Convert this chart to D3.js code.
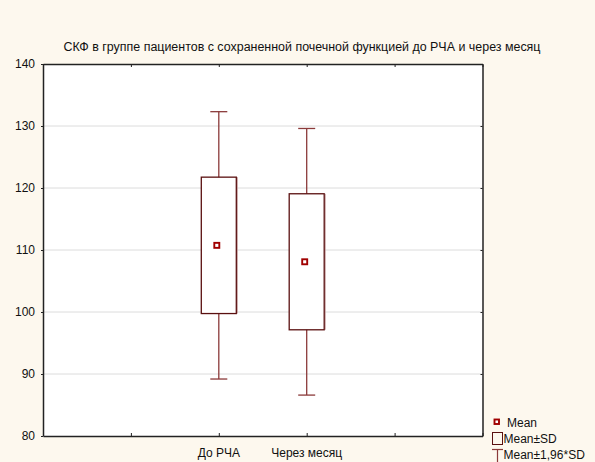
<!DOCTYPE html>
<html>
<head>
<meta charset="utf-8">
<script src="https://cdn.jsdelivr.net/npm/d3@7"></script>
<style>
  body { margin: 0; background: #fdf8ee; }
  svg { display: block; font-family: "Liberation Sans", Arial, sans-serif; }
</style>
</head>
<body>
<svg id="chart" width="595" height="462"></svg>
<script>
// data
var categories = ["До РЧА", "Через месяц"];
var catPos = [2, 3];
var means = [110.75, 108.1];
var sds = [11.0, 10.97];
var yTicks = [80, 90, 100, 110, 120, 130, 140];
var xTicks = [0, 1, 2, 3, 4, 5];
var title = "СКФ в группе пациентов с сохраненной почечной функцией до РЧА и через месяц";
var legendItems = ["Mean", "Mean±SD", "Mean±1,96*SD"];

var svg = d3.select("#chart");
var plotLeft = 43, plotRight = 482.5, plotTop = 64, plotBottom = 436;

var x = d3.scaleLinear().domain([0, 5]).range([plotLeft, plotRight]);
var y = d3.scaleLinear().domain([80, 140]).range([plotBottom, plotTop]);

var boxColor = "#5a1010";
var shadeColor = "#c49a9a";
var whiskColor = "#8b3a3a";
var markColor = "#a00000";

// plot background
svg.append("rect")
  .attr("x", plotLeft).attr("y", plotTop)
  .attr("width", plotRight - plotLeft).attr("height", plotBottom - plotTop)
  .attr("fill", "#ffffff");

// gridlines
svg.append("g").selectAll("line")
  .data(yTicks.slice(1, -1))
  .join("line")
  .attr("x1", plotLeft).attr("x2", plotRight)
  .attr("y1", d => y(d)).attr("y2", d => y(d))
  .attr("stroke", "#dcdcdc").attr("stroke-width", 1);

// axes
var gLeft = svg.append("g").attr("transform", "translate(" + plotLeft + ",0)")
  .call(d3.axisLeft(y).tickValues(yTicks).tickSize(2).tickSizeOuter(0).tickPadding(6));
var gRight = svg.append("g").attr("transform", "translate(" + plotRight + ",0)")
  .call(d3.axisLeft(y).tickValues(yTicks).tickSize(2).tickSizeOuter(0).tickFormat(""));
var gBottom = svg.append("g").attr("transform", "translate(0," + plotBottom + ")")
  .call(d3.axisTop(x).tickValues(xTicks).tickSize(3).tickSizeOuter(0).tickFormat(""));
var gTop = svg.append("g").attr("transform", "translate(0," + plotTop + ")")
  .call(d3.axisBottom(x).tickValues(xTicks).tickSize(3).tickSizeOuter(0).tickFormat(""));

[gLeft, gRight, gBottom, gTop].forEach(g => {
  g.select(".domain").attr("stroke", "#222").attr("stroke-width", 1.5);
  g.selectAll(".tick line").attr("stroke", "#222");
});
gLeft.selectAll(".tick text")
  .attr("font-size", "12px").attr("fill", "#111")
  .attr("font-family", "Liberation Sans, Arial, sans-serif");

// category labels
svg.append("g").selectAll("text")
  .data(categories)
  .join("text")
  .attr("x", (d, i) => x(catPos[i]))
  .attr("y", plotBottom + 21)
  .attr("text-anchor", "middle")
  .attr("font-size", "12px").attr("fill", "#111")
  .text(d => d);

// title
svg.append("text")
  .attr("x", 302).attr("y", 51)
  .attr("text-anchor", "middle")
  .attr("font-size", "12.45px").attr("fill", "#111")
  .text(title);

var boxW = 35, capW = 17;
var groups = svg.append("g").selectAll("g")
  .data(categories.map((c, i) => ({ c: c, p: catPos[i], m: means[i], s: sds[i] })))
  .join("g");

// whiskers
groups.append("line")
  .attr("x1", d => x(d.p)).attr("x2", d => x(d.p))
  .attr("y1", d => y(d.m + 1.96 * d.s)).attr("y2", d => y(d.m - 1.96 * d.s))
  .attr("stroke", whiskColor).attr("stroke-width", 1.3);
groups.append("line")
  .attr("x1", d => x(d.p) - capW / 2).attr("x2", d => x(d.p) + capW / 2)
  .attr("y1", d => y(d.m + 1.96 * d.s)).attr("y2", d => y(d.m + 1.96 * d.s))
  .attr("stroke", whiskColor).attr("stroke-width", 1.3);
groups.append("line")
  .attr("x1", d => x(d.p) - capW / 2).attr("x2", d => x(d.p) + capW / 2)
  .attr("y1", d => y(d.m - 1.96 * d.s)).attr("y2", d => y(d.m - 1.96 * d.s))
  .attr("stroke", whiskColor).attr("stroke-width", 1.3);

// boxes, with the light shade on the right edge
groups.append("line")
  .attr("x1", d => x(d.p) + boxW / 2 + 1).attr("x2", d => x(d.p) + boxW / 2 + 1)
  .attr("y1", d => y(d.m + d.s)).attr("y2", d => y(d.m - d.s))
  .attr("stroke", shadeColor).attr("stroke-width", 1);
groups.append("rect")
  .attr("x", d => x(d.p) - boxW / 2)
  .attr("y", d => y(d.m + d.s))
  .attr("width", boxW)
  .attr("height", d => y(d.m - d.s) - y(d.m + d.s))
  .attr("fill", "#ffffff")
  .attr("stroke", boxColor).attr("stroke-width", 1.3);

// mean markers
groups.append("rect")
  .attr("x", d => x(d.p) - 2.5 - 2)
  .attr("y", d => y(d.m) - 2.5)
  .attr("width", 5).attr("height", 5)
  .attr("fill", "#ffffff")
  .attr("stroke", markColor).attr("stroke-width", 1.9);

// legend
var lg = svg.append("g");
lg.append("rect").attr("x", 494.5).attr("y", 419.5).attr("width", 4.5).attr("height", 4.5)
  .attr("fill", "#fff").attr("stroke", markColor).attr("stroke-width", 1.9);
lg.append("rect").attr("x", 492.5).attr("y", 432.5).attr("width", 10).attr("height", 12)
  .attr("fill", "none").attr("stroke", boxColor).attr("stroke-width", 1);
lg.append("line").attr("x1", 492).attr("x2", 503).attr("y1", 449.5).attr("y2", 449.5)
  .attr("stroke", whiskColor).attr("stroke-width", 1.2);
lg.append("line").attr("x1", 497.5).attr("x2", 497.5).attr("y1", 449.5).attr("y2", 462)
  .attr("stroke", whiskColor).attr("stroke-width", 1.2);
lg.selectAll("text")
  .data(legendItems)
  .join("text")
  .attr("x", (d, i) => i == 0 ? 507 : 503.5)
  .attr("y", (d, i) => 427 + i * 16)
  .attr("font-size", "12px").attr("fill", "#111")
  .text(d => d);
</script>
</body>
</html>
